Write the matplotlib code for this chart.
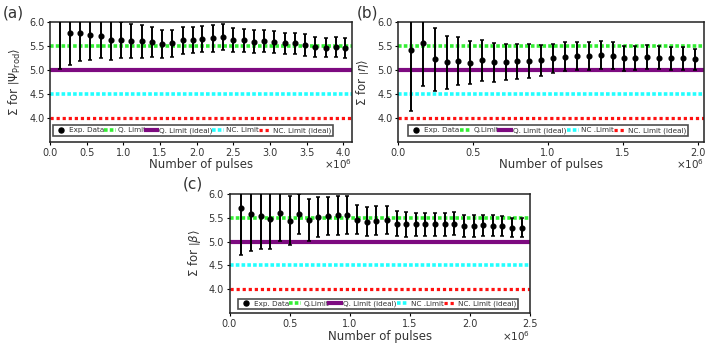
import numpy as np
import matplotlib
matplotlib.use('Agg')
import matplotlib.pyplot as plt
from matplotlib.lines import Line2D
from matplotlib.ticker import FormatStrFormatter, FuncFormatter

# panel (a): |Psi_Prod>
pulses_a = np.array([0.14, 0.27, 0.41, 0.55, 0.69, 0.83, 0.97, 1.11, 1.25, 1.39,
                     1.53, 1.67, 1.81, 1.95, 2.08, 2.22, 2.36, 2.50, 2.64, 2.78,
                     2.92, 3.06, 3.20, 3.34, 3.48, 3.62, 3.76, 3.90, 4.03]) * 1e6
sigma_a = [6.08, 5.78, 5.77, 5.72, 5.71, 5.62, 5.62, 5.60, 5.60, 5.58,
           5.54, 5.56, 5.62, 5.62, 5.65, 5.66, 5.68, 5.63, 5.62, 5.59,
           5.60, 5.58, 5.555, 5.555, 5.52, 5.48, 5.465, 5.48, 5.46]
err_a = [1.05, 0.68, 0.58, 0.51, 0.45, 0.41, 0.38, 0.36, 0.34, 0.31,
         0.30, 0.28, 0.28, 0.27, 0.27, 0.28, 0.27, 0.25, 0.24, 0.24,
         0.23, 0.23, 0.22, 0.22, 0.22, 0.21, 0.20, 0.20, 0.20]

# panel (b): |eta>
pulses_b = np.array([0.09, 0.167, 0.247, 0.325, 0.403, 0.483, 0.56, 0.64, 0.72, 0.795,
                     0.876, 0.955, 1.035, 1.113, 1.19, 1.27, 1.35, 1.43, 1.505, 1.583,
                     1.66, 1.74, 1.82, 1.90, 1.98]) * 1e6
sigma_b = [5.42, 5.56, 5.22, 5.16, 5.18, 5.15, 5.20, 5.16, 5.17, 5.18,
           5.19, 5.20, 5.24, 5.28, 5.29, 5.29, 5.31, 5.30, 5.24, 5.26,
           5.28, 5.26, 5.24, 5.24, 5.22]
err_b = [1.27, 0.89, 0.65, 0.55, 0.50, 0.45, 0.42, 0.40, 0.37, 0.36,
         0.35, 0.33, 0.31, 0.31, 0.29, 0.29, 0.29, 0.28, 0.26, 0.25,
         0.25, 0.24, 0.23, 0.23, 0.22]

# panel (c): |beta>
pulses_c = np.array([0.098, 0.178, 0.258, 0.337, 0.42, 0.50, 0.58, 0.66, 0.74, 0.82,
                     0.90, 0.98, 1.06, 1.14, 1.22, 1.307, 1.39, 1.47, 1.55, 1.63,
                     1.71, 1.79, 1.87, 1.95, 2.03, 2.11, 2.19, 2.27, 2.35, 2.43]) * 1e6
sigma_c = [5.71, 5.59, 5.53, 5.47, 5.61, 5.44, 5.59, 5.46, 5.52, 5.53,
           5.55, 5.55, 5.46, 5.42, 5.44, 5.46, 5.38, 5.36, 5.36, 5.36,
           5.36, 5.36, 5.38, 5.33, 5.33, 5.34, 5.33, 5.32, 5.29, 5.29]
err_c = [0.99, 0.79, 0.69, 0.63, 0.59, 0.51, 0.42, 0.44, 0.42, 0.40,
         0.41, 0.40, 0.31, 0.30, 0.30, 0.29, 0.26, 0.26, 0.25, 0.25,
         0.25, 0.25, 0.25, 0.23, 0.23, 0.22, 0.22, 0.21, 0.20, 0.20]

# bounds
q_limit, q_limit_ideal = 5.5, 5.0
nc_limit, nc_limit_ideal = 4.5, 4.0

TXT = '#333333'
GREEN, PURPLE, CYAN, RED = '#33ee33', '#7d0a80', '#22ffff', '#ff1111'
plt.rcParams['font.family'] = ['DejaVu Sans']
plt.rcParams['mathtext.fontset'] = 'dejavusans'


def draw_panel(ax, x, y, err, ylabel, names, xmax, box, label_y):
    ax.axhline(q_limit, color=GREEN, lw=2.6, ls=(0, (1, 0.6)), zorder=1)
    ax.axhline(q_limit_ideal, color=PURPLE, lw=3, zorder=1)
    ax.axhline(nc_limit, color=CYAN, lw=2.6, ls=(0, (1, 0.6)), zorder=1)
    ax.axhline(nc_limit_ideal, color=RED, lw=2.3, ls=(0, (1, 0.9)), zorder=1)
    ax.errorbar(x, y, yerr=err, fmt='o', color='black', ms=3.4, lw=1.4,
                capsize=1.3, capthick=1.1, zorder=3)

    ax.set_xlim(0, xmax)
    ax.set_ylim(3.5, 6.0)
    ax.set_yticks([4.0, 4.5, 5.0, 5.5, 6.0])
    ax.set_xticks(np.arange(0, xmax + 1, 0.5e6))
    ax.set_xlim(0, xmax)
    ax.yaxis.set_major_formatter(FormatStrFormatter('%.1f'))
    ax.xaxis.set_major_formatter(FuncFormatter(lambda v, p: '%.1f' % (v / 1e6)))
    ax.tick_params(labelsize=7, labelcolor=TXT, color='black', length=2.5,
                   width=0.8, pad=1.5)
    for s in ax.spines.values():
        s.set_linewidth(1.1)
        s.set_color('#222222')
    ax.set_xlabel('Number of pulses', fontsize=8.5, color=TXT)
    ax.xaxis.set_label_coords(0.5, label_y)
    ax.text(1.0, label_y + 0.005, r'$\times 10^{6}$', transform=ax.transAxes,
            ha='right', va='top', fontsize=7.5, color=TXT)
    ax.set_ylabel(ylabel, fontsize=8.5, color=TXT, labelpad=4)

    handles = [
        Line2D([], [], marker='o', color='black', ls='none', ms=3.6),
        Line2D([], [], color=GREEN, lw=2.6, ls=(0, (1, 0.6))),
        Line2D([], [], color=PURPLE, lw=3),
        Line2D([], [], color=CYAN, lw=2.6, ls=(0, (1, 0.6))),
        Line2D([], [], color=RED, lw=2.3, ls=(0, (1, 0.9))),
    ]
    leg = ax.legend(handles, names, ncol=5, mode='expand', bbox_to_anchor=box,
                    loc='lower left', fontsize=5.2, frameon=True, fancybox=False,
                    handlelength=1.6, handletextpad=0.3, columnspacing=0.3,
                    borderaxespad=0, borderpad=0.3, labelcolor=TXT)
    leg.get_frame().set_edgecolor('#222222')
    leg.get_frame().set_linewidth(1.2)


fig = plt.figure(figsize=(7.06, 3.43), dpi=100)
W, H = 706, 343


def add_axes(left, right, top, bottom):
    return fig.add_axes([left / W, 1 - bottom / H, (right - left) / W, (bottom - top) / H])


ax_a = add_axes(50, 352, 22, 142)
ax_b = add_axes(398, 704, 22, 142)
ax_c = add_axes(229.5, 530, 194, 313)

names_a = ['Exp. Data', 'Q. Limit', 'Q. Limit (ideal)', 'NC. Limit', 'NC. Limit (ideal)']
names_bc = ['Exp. Data', 'Q.Limit', 'Q. Limit (ideal)', 'NC .Limit', 'NC. Limit (ideal)']

draw_panel(ax_a, pulses_a, sigma_a, err_a,
           r'$\Sigma$ for $\left|\Psi_{\mathrm{Prod}}\right\rangle$',
           names_a, 4.12e6, (0.01, 0.05, 0.927, 0.11), -0.13)
draw_panel(ax_b, pulses_b, sigma_b, err_b,
           r'$\Sigma$ for $\left|\eta\right\rangle$',
           names_bc, 2.04e6, (0.033, 0.05, 0.915, 0.11), -0.13)
draw_panel(ax_c, pulses_c, sigma_c, err_c,
           r'$\Sigma$ for $\left|\beta\right\rangle$',
           names_bc, 2.5e6, (0.028, 0.03, 0.932, 0.115), -0.14)

fig.text(3 / W, 1 - 13 / H, '(a)', fontsize=11, color=TXT, va='center')
fig.text(357 / W, 1 - 13 / H, '(b)', fontsize=11, color=TXT, va='center')
fig.text(183 / W, 1 - 184 / H, '(c)', fontsize=11, color=TXT, va='center')

fig.savefig('out.png', dpi=100)
